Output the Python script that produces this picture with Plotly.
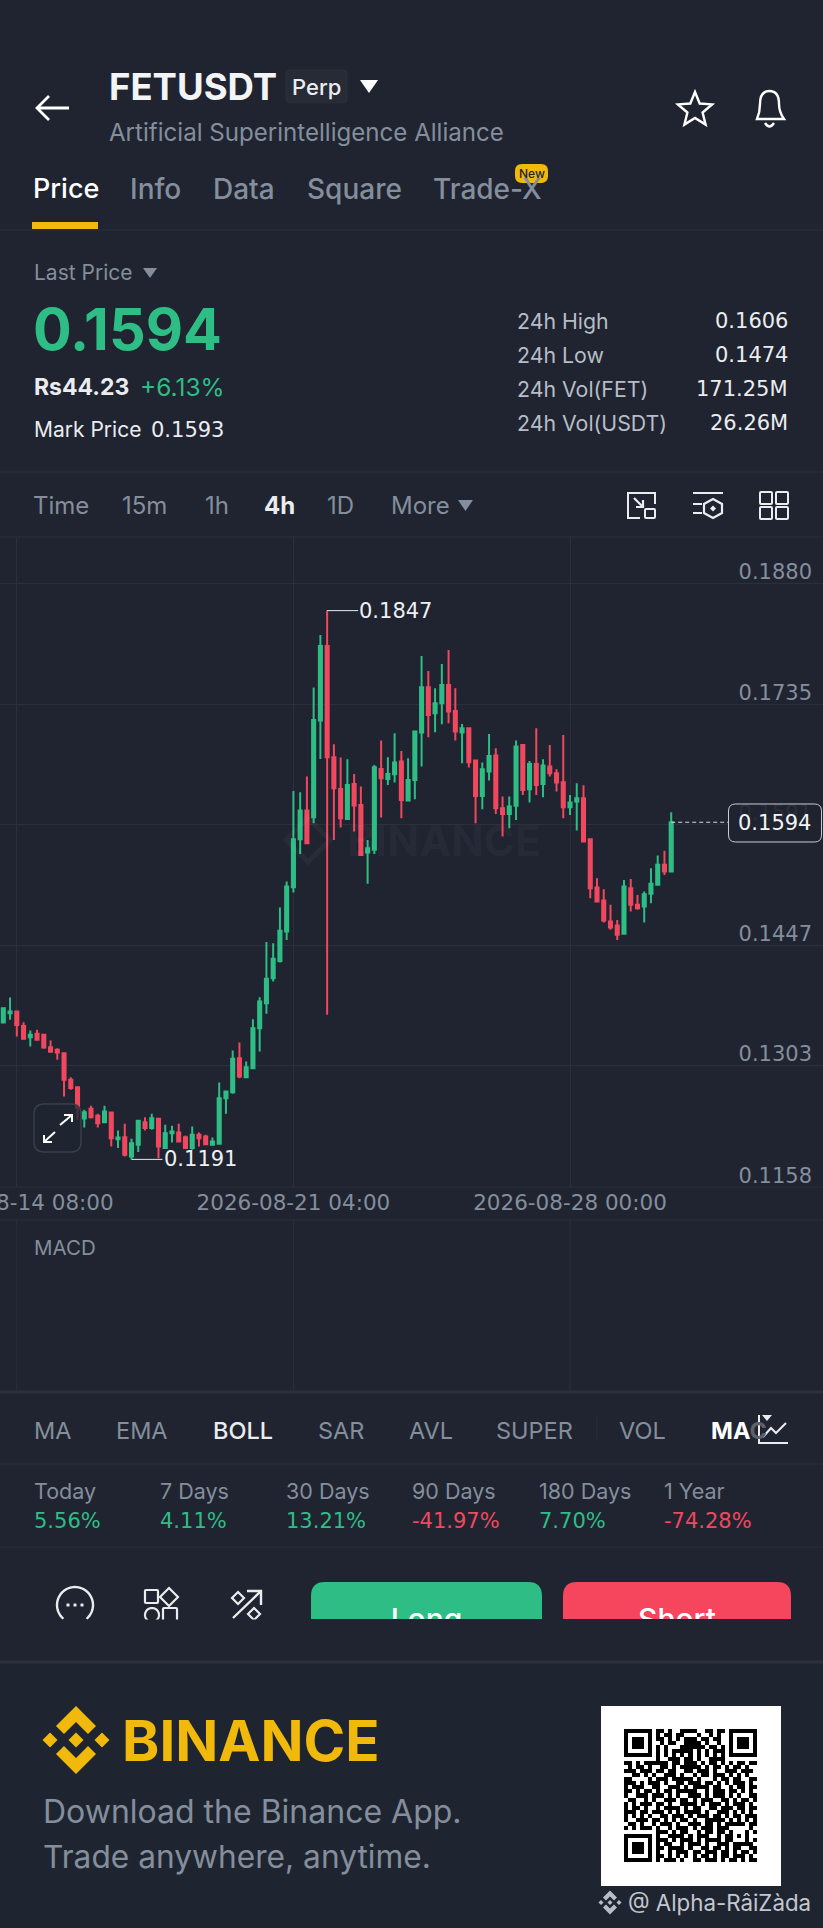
import re, math
import pandas as pd
import plotly.graph_objects as go

W, H = 823, 1928

# ---------- chart data ----------
OPENS = [.13546,.13658,.13678,.13506,.13371,.13411,.13399,.13251,.13220,.13180,
.12861,.12773,.12399,.12515,.12431,.12355,.12471,.12152,.12176,.11945,
.12084,.12355,.12284,.12395,.12045,.12224,.12232,.12176,.12045,.12204,
.12184,.12084,.12096,.12642,.12714,.13120,.12893,.13001,.13478,.13777,
.14076,.14283,.14634,.15164,.15737,.16080,.16000,.17155,.18047,.16717,
.16339,.15980,.16398,.16147,.15578,.15610,.16578,.16458,.16514,.16665,
.16199,.16446,.17012,.17553,.17243,.17362,.17581,.17271,.17012,.17064,
.16677,.16255,.16546,.16737,.16108,.16040,.16136,.16865,.16335,.16637,
.16398,.16606,.16526,.16418,.16120,.16187,.16227,.15737,.15160,.15004,
.14753,.14706,.14606,.15152,.14953,.14933,.15084,.15192,.15431,.15351]
CLOSES = [.13718,.13678,.13518,.13351,.13399,.13339,.13247,.13196,.13188,.12861,
.12762,.12523,.12475,.12415,.12343,.12483,.12164,.12172,.11965,.12104,
.12371,.12284,.12403,.12065,.12224,.12244,.12124,.12045,.12204,.12164,
.12092,.12124,.12642,.12722,.13112,.12901,.13012,.13478,.13797,.14068,
.14307,.14642,.15172,.15737,.16080,.15689,.17163,.18047,.16717,.16347,
.15988,.16386,.16140,.15550,.15630,.16598,.16466,.16518,.16653,.16207,
.16446,.17024,.17553,.17223,.17362,.17581,.17263,.17024,.17064,.16657,
.16255,.16574,.16733,.16108,.16040,.16128,.16845,.16327,.16637,.16386,
.16618,.16526,.16414,.16120,.16175,.16227,.15709,.15152,.14992,.14765,
.14682,.14594,.15172,.14953,.14913,.15080,.15204,.15431,.15351,.15940]
HIGHS = [.13718,.13845,.13678,.13550,.13451,.13459,.13399,.13331,.13240,.13188,
.12893,.12773,.12503,.12550,.12455,.12550,.12483,.12256,.12335,.12156,
.12383,.12415,.12455,.12403,.12323,.12311,.12335,.12196,.12303,.12232,
.12204,.12172,.12829,.12734,.13212,.13307,.13080,.13586,.13849,.14510,
.14494,.14921,.15231,.16315,.16299,.16486,.17550,.18179,.18470,.16872,
.16713,.16693,.16518,.16367,.15729,.16625,.16916,.16717,.17004,.16793,
.16705,.17036,.17928,.17749,.17542,.17832,.18000,.17542,.17115,.17064,
.16677,.16653,.16996,.16825,.16247,.16247,.16916,.16865,.16673,.17064,
.16693,.16865,.16574,.16984,.16267,.16406,.16382,.15737,.15271,.15140,
.14953,.14773,.15251,.15263,.15072,.15112,.15391,.15542,.15598,.16060]
LOWS = [.13546,.13578,.13379,.13339,.13259,.13327,.13232,.13188,.13100,.12662,
.12742,.12383,.12292,.12399,.12292,.12355,.12065,.12045,.11945,.11910,
.11997,.12256,.12264,.11925,.12037,.12112,.12112,.12037,.12025,.12065,
.12084,.12084,.12084,.12455,.12694,.12881,.12881,.12989,.13200,.13650,
.14036,.14264,.14534,.15100,.15562,.15681,.15928,.16697,.13638,.15729,
.15877,.15968,.15829,.15550,.15204,.15562,.15996,.16386,.16414,.15988,
.16187,.16215,.16606,.16956,.17016,.17111,.17123,.16916,.16645,.16594,
.15928,.16096,.16438,.16040,.15769,.15869,.15968,.16267,.16175,.16267,
.16239,.16486,.16307,.15988,.16028,.15841,.15697,.15032,.14985,.14742,
.14654,.14534,.14594,.14873,.14893,.14742,.14973,.15180,.15311,.15351]
TIMES = pd.date_range("2026-08-14 00:00", periods=len(OPENS), freq="4h")

PRICE_TICKS = [0.1880, 0.1735, 0.1591, 0.1447, 0.1303, 0.1158]
PRICE_LABELS = ["0.1880", "0.1735", "0.1591", "0.1447", "0.1303", "0.1158"]
TIME_TICKS = ["2026-08-14 08:00", "2026-08-21 04:00", "2026-08-28 00:00"]

PERIODS = ["Today", "7 Days", "30 Days", "90 Days", "180 Days", "1 Year"]
PERIOD_VALUES = ["5.56%", "4.11%", "13.21%", "-41.97%", "7.70%", "-74.28%"]

STAT_LABELS = ["24h High", "24h Low", "24h Vol(FET)", "24h Vol(USDT)"]
STAT_VALUES = ["0.1606", "0.1474", "171.25M", "26.26M"]

QR_ROWS = [
"#######.##.#..####..##.##.#######",
"#.....#.#.##.##...#..#.#..#.....#",
"#.###.#.##.#.#.###.##.##..#.###.#",
"#.###.#..#.##..####.#..#..#.###.#",
"#.###.#.#.#...######.##.#.#.###.#",
"#.....#.#.#.#####.#.#.###.#.....#",
"#######.#.#.#.#.#.#.#.#.#.#######",
"........#..###.##.#..####........",
"##.#.######.##.###.#.##.#.#.##.##",
".#.##.#..##.#.#####.#.##.#.##.#.",
"###.###.##.##..##.###.#..###.###.",
"..##.#.#..###.#..#.##.###.#.#.#..",
"##....#.###.#####.#...#.##.##..##",
"###.#.###.#..##.###.##.#.#.###.#.",
"#.###..##..###.#.####.##..#.##.##",
"##.#.##.#.##.#####..#.###.##.#.#.",
"#..###.###.#.#..###.#.###.#.#..##",
".##..#.#..###.##.#.###..##.#.##.#",
"#.#.###.##.#..####.#.###.#.###.#.",
"#.##.#..#.####.#.##..##.###.##.##",
"###.##.###.#.#.####.#..###.#.#.#.",
"#.#.#.#..##.###.#.###.##.#.##.###",
"#..###.##.#.#.##.#..#####.#.#.#.#",
".##.#..#.###.#..###.##.#.#####.##",
"#.#.###.#..#.###.#.###.###.....#.",
"........###.#.##..#.##.##.#...#.#",
"#######.#..####.#.###..#.##.#.#..",
"#.....#.###.#.###.#.####.##...#.#",
"#.###.#.#.##..#.###.#..###.#####.",
"#.###.#.##.####.#..##.##.#.##..##",
"#.###.#.#..#.###.##.###.##.#.##.#",
"#.....#.##.#.#.#.#.##.#.##.###.#.",
"#######.#.###.#..##.###.#.##.#.##",
]

# ---------- colours ----------
BG = "#1f2430"
FOOT = "#1f2530"
LINE = "#2b303b"
GRAY = "#848e9c"
SOFT = "#b7bdc6"
WHITE = "#eaecef"
GREEN = "#2ebd85"
RED = "#f0485f"
YEL = "#f0b90b"
FONT = "Inter"
NUM = "DejaVu Sans"

# ---------- pixel helpers ----------
def fx(x): return x / W
def fy(y): return 1 - y / H

def path(s):
    out, pair = [], 0
    for tok in re.findall(r"[A-Za-z]|-?\d+\.?\d*", s):
        if tok.isalpha():
            out.append(tok); pair = 0
        else:
            v = float(tok)
            out.append(f"{fx(v):.5f}" if pair % 2 == 0 else f"{fy(v):.5f}")
            pair += 1
    return " ".join(out)

shapes, annots = [], []

def pshape(s, color=None, fill=None, width=2.2, layer="above"):
    shapes.append(dict(type="path", xref="paper", yref="paper", path=path(s), layer=layer,
                       line=dict(color=color or "rgba(0,0,0,0)", width=width if color else 0),
                       fillcolor=fill or "rgba(0,0,0,0)"))

def rect(x0, y0, x1, y1, fill, layer="below"):
    shapes.append(dict(type="rect", xref="paper", yref="paper", x0=fx(x0), x1=fx(x1), y0=fy(y0), y1=fy(y1),
                       fillcolor=fill, line=dict(width=0), layer=layer))

def hline(y, width=1, color=LINE):
    shapes.append(dict(type="line", xref="paper", yref="paper", x0=0, x1=1, y0=fy(y), y1=fy(y),
                       line=dict(color=color, width=width), layer="below"))

def text(x, y, s, size, color=WHITE, weight=400, anchor="left", family=FONT):
    annots.append(dict(xref="paper", yref="paper", x=fx(x), y=fy(y), text=s, showarrow=False,
                       xanchor=anchor, yanchor="middle", borderpad=0,
                       font=dict(family=family, size=size, color=color, weight=weight)))

def rrect(x0, y0, x1, y1, r):
    return (f"M {x0+r} {y0} L {x1-r} {y0} Q {x1} {y0} {x1} {y0+r} L {x1} {y1-r} Q {x1} {y1} {x1-r} {y1} "
            f"L {x0+r} {y1} Q {x0} {y1} {x0} {y1-r} L {x0} {y0+r} Q {x0} {y0} {x0+r} {y0} Z")

def diamond(cx, cy, r):
    return f"M {cx} {cy-r} L {cx+r} {cy} L {cx} {cy+r} L {cx-r} {cy} Z"

def circle(cx, cy, r, a0=0, a1=360, n=48, close=True):
    pts = []
    for k in range(n + 1):
        a = math.radians(a0 + (a1 - a0) * k / n)
        pts.append(f"{cx + r*math.cos(a):.2f} {cy + r*math.sin(a):.2f}")
    return "M " + " L ".join(pts) + (" Z" if close else "")

# ---------- header ----------
pshape("M 69 108 L 38 108 M 49 96 L 37 108 L 49 120", color="#ffffff", width=2.8)
text(108, 87, "FETUSDT", 36.5, "#f3f4f6", 700)
pshape(rrect(286, 70, 347, 103, 4), color="#2b303b", fill="#262b36", width=1)
text(316.5, 87, "Perp", 22, WHITE, 500, "center")
pshape("M 360 80 L 378 80 L 369 93 Z", fill="#ffffff")
text(108, 133, "Artificial Superintelligence Alliance", 24.1, GRAY)

star = []
for k in range(10):
    r = 18 if k % 2 == 0 else 8
    a = math.radians(-90 + 36 * k)
    star.append(f"{695 + r*math.cos(a):.1f} {110 + r*math.sin(a):.1f}")
pshape("M " + " L ".join(star) + " Z", color="#ffffff", width=2.4)
pshape("M 757 119 Q 760 112 760 104 Q 760 91 769.5 91 Q 779 91 779 104 Q 779 112 784 119 Z", color="#ffffff", width=2.4)
pshape("M 765 123 Q 769.5 130 774 123", color="#ffffff", width=2.4)

for x, s, col, wt, sz in [(32, "Price", "#ffffff", 500, 27), (129, "Info", GRAY, 500, 28), (212, "Data", GRAY, 500, 28),
                      (306, "Square", GRAY, 500, 28), (432, "Trade-X", GRAY, 500, 28)]:
    text(x, 189, s, sz, col, wt)
rect(32, 222, 98, 229, YEL)
hline(230)
pshape(rrect(515, 164, 548, 183, 7), fill=YEL)
text(531.5, 173.5, "New", 12, "#1e2329", 500, "center")

# ---------- price block ----------
text(32.5, 272.5, "Last Price", 21, GRAY)
pshape("M 143 268 L 157 268 L 150 278 Z", fill=GRAY)
text(32, 329, "0.1594", 57.5, GREEN, 700)
text(32.5, 387.5, "Rs44.23", 23, WHITE, 700)
text(138.5, 387.5, "+6.13%", 24.5, GREEN, 400)
text(32.5, 430, "Mark Price", 21, WHITE)
text(150, 430, "0.1593", 21, WHITE, family=NUM)
for y, l, v in zip([321, 355, 389, 423], STAT_LABELS, STAT_VALUES):
    text(516, y, l, 21.3, SOFT)
    text(788.5, y, v, 21, WHITE, 400, "right", family=NUM)
hline(472)

# ---------- interval row ----------
for x, s, col, wt in [(32, "Time", GRAY, 400), (121, "15m", GRAY, 400), (204, "1h", GRAY, 400), (263, "4h", WHITE, 700),
                      (325.5, "1D", GRAY, 400), (389.5, "More", GRAY, 400)]:
    text(x, 506, s, 24, col, wt)
pshape("M 458 500 L 473 500 L 465.5 511 Z", fill=GRAY)
hline(537)
# icons of the interval row
pshape("M 640 518 L 628 518 L 628 493 L 655 493 L 655 504", color=WHITE, width=2)
pshape("M 634 498 L 643 507 M 643 500 L 643 507 L 636 507", color=WHITE, width=2.2)
pshape(rrect(645, 509, 655, 518, 1), color=WHITE, width=2)
pshape("M 693 493 L 723 493 M 693 504 L 702 504 M 693 513 L 702 513", color=WHITE, width=2)
pshape("M 713 499 L 722 504 L 722 513 L 713 518 L 704 513 L 704 504 Z", color=WHITE, width=2.2)
pshape(diamond(713, 508.5, 3), fill=WHITE)
for x0, y0 in [(760, 492), (776, 492), (760, 507), (776, 507)]:
    pshape(rrect(x0, y0, x0 + 12, y0 + 12, 1), color=WHITE, width=2)

# ---------- chart overlays ----------
last_x = TIMES[-1]
shapes.append(dict(type="line", xref="x", yref="y", x0=last_x, x1=pd.Timestamp("2026-08-31 21:40"),
                   y0=CLOSES[-1], y1=CLOSES[-1], line=dict(color="#d5d8de", width=1, dash="4px,3px"), layer="above"))
pshape(rrect(728.5, 804, 821.5, 842, 7), color="#c9ccd2", fill="rgba(31,36,48,0.9)", width=1)
text(812, 823, "0.1594", 21, "#f3f4f6", 400, "right", family=NUM)

# watermark
text(346, 840, "BINANCE", 42.5, "rgba(255,255,255,0.045)", 700)
pshape(diamond(308, 840, 22), color="rgba(255,255,255,0.04)", width=5)

# expand button
pshape(rrect(34, 1104, 81, 1152, 10), color="#3a404c", fill="rgba(31,36,48,0.75)", width=1.4)
pshape("M 60 1125 L 72 1115 M 64 1115 L 72 1115 L 72 1122", color="#ffffff", width=2)
pshape("M 55 1132 L 44 1142 M 44 1135 L 44 1142 L 52 1142", color="#ffffff", width=2)

def extreme(idx, price, label):
    annots.append(dict(x=TIMES[idx], y=price, xref="x", yref="y", text=label, showarrow=True,
                       arrowhead=0, arrowwidth=1, arrowcolor="#e6e8ec", ax=31, ay=0, standoff=0,
                       xanchor="left", yanchor="middle", borderpad=0,
                       font=dict(family=NUM, size=21, color="#eef0f3")))

extreme(48, max(HIGHS), "0.1847")
extreme(19, min(LOWS), "0.1191")

# MACD pane
hline(1187, 1)
hline(1220, 1)
hline(1392, 3)
for d in TIME_TICKS:
    shapes.append(dict(type="line", xref="x", yref="paper", x0=d, x1=d, y0=fy(1220), y1=fy(1392),
                       line=dict(color=LINE, width=1), layer="below"))
text(33, 1247, "MACD", 20.5, GRAY)

# ---------- indicator row ----------
for x, s, col, wt in [(33, "MA", GRAY, 400), (115, "EMA", GRAY, 400), (212, "BOLL", WHITE, 500), (317, "SAR", GRAY, 400),
                      (408, "AVL", GRAY, 400), (495, "SUPER", GRAY, 400), (618, "VOL", GRAY, 400)]:
    text(x, 1430, s, 23.5, col, wt)
text(710, 1430, "MA<span style='color:#5b616c'>C</span>", 23.5, "#ffffff", 700)
shapes.append(dict(type="line", xref="paper", yref="paper", x0=fx(597), x1=fx(597), y0=fy(1415), y1=fy(1441),
                   line=dict(color=LINE, width=1), layer="below"))
pshape("M 759 1415 L 759 1443 L 788 1443", color=WHITE, width=2)
pshape("M 763 1437 L 771 1428 L 776 1433 L 786 1423", color=WHITE, width=2)
pshape("M 762 1415 L 772 1415 L 767 1421 Z", fill=WHITE)
hline(1464)

# ---------- period row ----------
for x, l, v in zip([33, 159, 285, 411, 538, 663], PERIODS, PERIOD_VALUES):
    text(x, 1491, l, 21.5, GRAY)
    text(x, 1521, v, 21, RED if v.startswith("-") else GREEN, family=NUM)
hline(1547)

# ---------- action row ----------
pshape(circle(75, 1605, 18, 130, 410, close=False), color=WHITE, width=2.4)
for x in (68, 75, 82):
    pshape(rrect(x - 1.5, 1603.5, x + 1.5, 1606.5, 0.5), fill=WHITE)
pshape(rrect(145, 1590, 158, 1603, 1), color=WHITE, width=2.2)
pshape(diamond(169, 1597, 9), color=WHITE, width=2.2)
pshape(circle(152, 1615, 7), color=WHITE, width=2.2)
pshape(rrect(163, 1608, 177, 1628, 1), color=WHITE, width=2.2)
pshape("M 233 1618 L 261 1591 M 247 1591 L 261 1591 L 261 1605", color=WHITE, width=2.4)
pshape(diamond(238, 1598, 6), color=WHITE, width=2.2)
pshape(diamond(254, 1614, 6), color=WHITE, width=2.2)
rect(30, 1619.5, 300, 1650, BG, layer="above")

pshape("M 311 1619 L 311 1596 Q 311 1582 325 1582 L 528 1582 Q 542 1582 542 1596 L 542 1619 Z", fill=GREEN, layer="below")
pshape("M 563 1619 L 563 1596 Q 563 1582 577 1582 L 777 1582 Q 791 1582 791 1596 L 791 1619 Z", fill="#f6465d", layer="below")

# ---------- footer ----------
rect(0, 1662, W, H, FOOT)
hline(1662, 3)
cx, cy = 76, 1740
pshape(diamond(cx, cy, 7.5), fill=YEL)
pshape(diamond(cx - 26, cy, 7.5), fill=YEL)
pshape(diamond(cx + 26, cy, 7.5), fill=YEL)
pshape(f"M {cx} {cy-34} L {cx+20} {cy-14} L {cx+12} {cy-6} L {cx} {cy-18} L {cx-12} {cy-6} L {cx-20} {cy-14} Z", fill=YEL)
pshape(f"M {cx} {cy+34} L {cx+20} {cy+14} L {cx+12} {cy+6} L {cx} {cy+18} L {cx-12} {cy+6} L {cx-20} {cy+14} Z", fill=YEL)
text(120.5, 1740, "BINANCE", 56.5, YEL, 700)
text(41.5, 1811, "Download the Binance App.", 32, GRAY)
text(41.5, 1856, "Trade anywhere, anytime.", 31.7, GRAY)
rect(601, 1706, 781, 1886, "#ffffff")

cx, cy = 610, 1902.5
pshape(diamond(cx, cy, 2.5), fill=SOFT)
pshape(diamond(cx - 9, cy, 2.5), fill=SOFT)
pshape(diamond(cx + 9, cy, 2.5), fill=SOFT)
pshape(f"M {cx} {cy-12} L {cx+7} {cy-5} L {cx+4} {cy-2} L {cx} {cy-6} L {cx-4} {cy-2} L {cx-7} {cy-5} Z", fill=SOFT)
pshape(f"M {cx} {cy+12} L {cx+7} {cy+5} L {cx+4} {cy+2} L {cx} {cy+6} L {cx-4} {cy+2} L {cx-7} {cy+5} Z", fill=SOFT)
text(627, 1902, "@ Alpha-RâiZàda", 22.3, "#c3c7cf")

# ---------- traces ----------
fig = go.Figure()
fig.add_trace(go.Candlestick(
    x=TIMES, open=OPENS, high=HIGHS, low=LOWS, close=CLOSES,
    increasing=dict(line=dict(color=GREEN, width=2), fillcolor=GREEN),
    decreasing=dict(line=dict(color=RED, width=2), fillcolor=RED),
    whiskerwidth=0, showlegend=False, hoverinfo="skip"))

# clipped button captions live in their own strip so the axis clip cuts them
fig.add_trace(go.Scatter(x=[426.5, 677], y=[1622, 1622], text=["Long", "Short"], mode="text",
                         textposition="middle center", cliponaxis=True,
                         textfont=dict(family=FONT, size=30, color="#ffffff", weight=500),
                         xaxis="x3", yaxis="y3", showlegend=False, hoverinfo="skip"))

qr_cells = [[1 if c == "#" else 0 for c in row.ljust(33, ".")[:33]] for row in QR_ROWS]
fig.add_trace(go.Heatmap(z=qr_cells, colorscale=[[0, "#ffffff"], [1, "#000000"]], zmin=0, zmax=1,
                         showscale=False, xaxis="x4", yaxis="y4", hoverinfo="skip", xgap=0, ygap=0))

fig.update_layout(
    width=W, height=H, margin=dict(l=0, r=0, t=0, b=0), autosize=False,
    paper_bgcolor=BG, plot_bgcolor="rgba(0,0,0,0)", showlegend=False,
    shapes=shapes, annotations=annots, boxgap=0.35,
    font=dict(family=FONT),
    xaxis=dict(domain=[0, 1], range=["2026-08-13 22:02", "2026-09-03 06:00"], type="date",
               rangeslider=dict(visible=False), showgrid=True, gridcolor=LINE, gridwidth=1,
               tickvals=TIME_TICKS, tickformat="%Y-%m-%d %H:%M", ticks="", ticklen=0,
               tickfont=dict(family=NUM, size=21.5, color=GRAY), zeroline=False, showline=False,
               ticklabeloverflow="allow", anchor="y", fixedrange=True, automargin=False),
    yaxis=dict(domain=[fy(1187), fy(537)], range=[0.1158, 0.1935], side="right", showgrid=True, gridcolor=LINE,
               gridwidth=1, tickvals=PRICE_TICKS, ticktext=PRICE_LABELS, ticks="",
               ticklabelposition="inside top", ticklabelstandoff=8, ticklabelshift=3,
               ticklabeloverflow="allow",
               tickfont=dict(family=NUM, size=21, color=GRAY), zeroline=False, showline=False,
               anchor="x", fixedrange=True, automargin=False),
    xaxis3=dict(domain=[0, 1], range=[0, W], visible=False, anchor="y3", fixedrange=True),
    yaxis3=dict(domain=[fy(1619), fy(1582)], range=[1619, 1582], visible=False, anchor="x3", fixedrange=True),
    xaxis4=dict(domain=[fx(624), fx(757)], range=[-0.5, 32.5], visible=False, anchor="y4", fixedrange=True),
    yaxis4=dict(domain=[fy(1862), fy(1729)], range=[32.5, -0.5], visible=False, anchor="x4", fixedrange=True),
)

fig.write_html("out.html", config=dict(displayModeBar=False, staticPlot=True),
               post_script="document.body.style.margin='0';document.documentElement.style.background='%s';" % BG)
